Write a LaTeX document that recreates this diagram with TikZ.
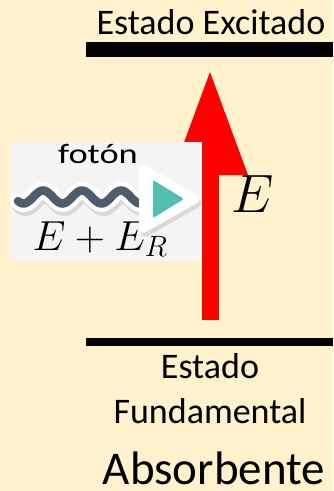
\RequirePackage{fix-cm}
\documentclass[tikz,border=0pt]{standalone}
\usepackage{amsmath}
\usepackage[no-math]{fontspec}
\setmainfont{Carlito}
\usetikzlibrary{arrows.meta}
\definecolor{crema}{RGB}{255,242,204}
\definecolor{grisclaro}{RGB}{244,244,244}
\definecolor{onda}{RGB}{78,93,108}
\definecolor{turquesa}{RGB}{82,190,180}

\begin{document}
\begin{tikzpicture}[x=1pt, y=-1pt,
    every node/.style={inner sep=0pt},
    nivel/.style={fill=black, anchor=north west, minimum width=247pt},
    rotulo/.style={font=\fontsize{36}{42}\selectfont, anchor=base},
    sombra/.style={gray!30, shift={(2,4)}}]
    \fill[crema] (0,0) rectangle (333,491);
    \useasboundingbox (0,0) rectangle (333,491);

    \node[nivel, minimum height=15pt] (excitado) at (86,42) {};
    \node[nivel, minimum height=8pt] (fundamental) at (86,338) {};
    \node[rotulo] (lblexc) at (211,34) {Estado Excitado};
    \node[rotulo] (lblfund1) at (210,378) {Estado};
    \node[rotulo] (lblfund2) at (210,423) {Fundamental};
    \node[font=\fontsize{47}{56}\selectfont, anchor=base] (absorbente) at (214,484) {Absorbente};

    \coordinate (base) at (210,320);
    \coordinate (tope) at (210,72);
    \draw[red, line width=17pt, -{Triangle[length=103pt, width=76pt, line width=0pt]}] (base) -- (tope);
    \node[font=\fontsize{54}{60}\selectfont] (energia) at (253,194) {$E$};

    \node[fill=grisclaro, anchor=north west, minimum width=192pt, minimum height=118pt] (caja) at (10,142) {};
    \node[anchor=base] (foton) at (98,163) {\scalebox{1.3}[1]{\fontsize{28}{32}\selectfont fotón}};
    \node[font=\fontsize{42}{50}\selectfont, anchor=base] (energiafoton) at (100,250) {$E+E_R$};

    \foreach \estilo/\ancho in {sombra/17, white/17, onda/8.5}
        \draw[\estilo, line width=\ancho pt, line cap=round]
            plot[domain=18:150, samples=60] (\x, {197-6.5*sin((\x-33.25)*9.2308)});
    \fill[sombra, rounded corners=9pt] (139,162) -- (204,199) -- (139,236) -- cycle;
    \fill[white, rounded corners=9pt] (139,162) -- (204,199) -- (139,236) -- cycle;
    \fill[turquesa, rounded corners=2pt] (153,180) -- (184,199) -- (153,218) -- cycle;
\end{tikzpicture}
\end{document}
